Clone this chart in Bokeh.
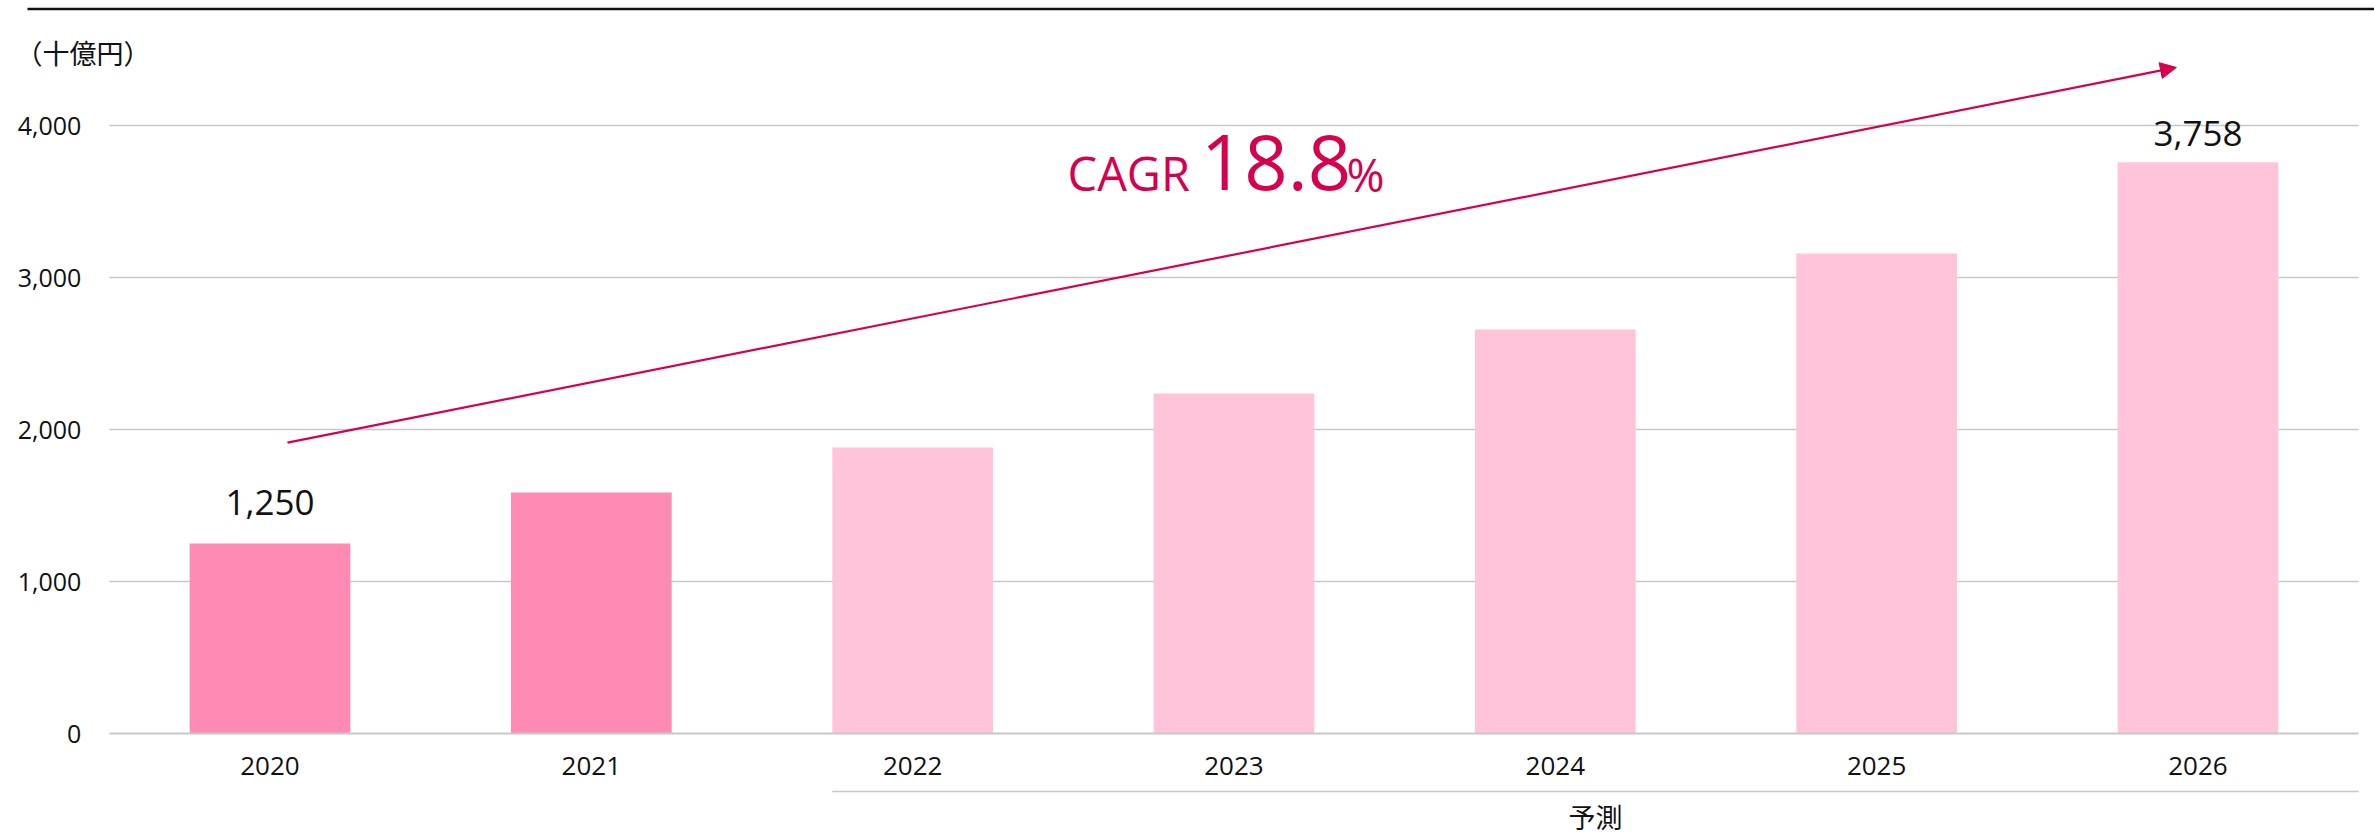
from bokeh.plotting import figure
from bokeh.models import (Range1d, FixedTicker, NumeralTickFormatter, Arrow, NormalHead)
from bokeh.core.properties import value
from bokeh.embed import file_html
from bokeh.resources import INLINE

# ---- data ----
years = ["2020", "2021", "2022", "2023", "2024", "2025", "2026"]
values = [1250, 1586, 1882, 2237, 2658, 3158, 3758]
is_forecast = [False, False, True, True, True, True, True]
y_ticks = [0, 1000, 2000, 3000, 4000]
unit_label = "（十億円）"
forecast_label = "予測"
cagr_prefix = "CAGR "
cagr_value = "18.8"
cagr_suffix = "%"

# ---- style ----
ACTUAL = "#FF8AB4"
FORECAST = "#FFC4D9"
ACCENT = "#D6004F"
GRID = "#C8C8C8"
LATIN = "Open Sans"
CJK = "Noto Sans CJK JP"
BAR_W = 0.5

W, H = 2374, 837
n = len(years)
xs = list(range(n))

p = figure(width=W, height=H, output_backend="svg", toolbar_location=None,
           x_range=Range1d(-0.8387, 6.5494), y_range=Range1d(-684.2, 4822.4),
           min_border_left=0, min_border_right=0, min_border_top=0, min_border_bottom=0)
p.outline_line_color = None
p.xgrid.visible = False
p.ygrid.visible = False
p.background_fill_color = "white"

# gridlines (start at the left end of the category band)
grid_ticks = [t for t in y_ticks if t != 0]
p.segment(x0=[-0.5] * len(grid_ticks), x1=[n - 0.5] * len(grid_ticks),
          y0=grid_ticks, y1=grid_ticks, line_color=GRID, line_width=1.3)

# bars
colors = [FORECAST if f else ACTUAL for f in is_forecast]
p.vbar(x=xs, top=values, bottom=0, width=BAR_W, fill_color=colors, line_color=None)

# x axis at y=0
xa = p.xaxis[0]
xa.fixed_location = 0
xa.bounds = (-0.5, n - 0.5)
xa.ticker = FixedTicker(ticks=xs)
xa.major_label_overrides = {i: y for i, y in enumerate(years)}
xa.axis_line_color = GRID
xa.axis_line_width = 2
xa.major_tick_line_color = None
xa.minor_tick_line_color = None
xa.major_tick_out = 0
xa.major_label_standoff = 23
xa.major_label_text_font = LATIN
xa.major_label_text_font_size = "26px"
xa.major_label_text_color = "#111111"

# y axis
ya = p.yaxis[0]
ya.fixed_location = -0.5
ya.ticker = FixedTicker(ticks=y_ticks)
ya.formatter = NumeralTickFormatter(format="0,0")
ya.axis_line_color = None
ya.major_tick_line_color = None
ya.minor_tick_line_color = None
ya.major_tick_out = 0
ya.major_label_standoff = 28
ya.major_label_text_font = LATIN
ya.major_label_text_font_size = "25px"
ya.major_label_text_color = "#111111"

# data labels on first and last bar
lab_idx = [0, n - 1]
lab_offsets = [-41, -29]
p.text(x=[xs[i] for i in lab_idx], y=[values[i] for i in lab_idx],
       text=[f"{values[i]:,}" for i in lab_idx], y_offset=lab_offsets,
       text_align="center", text_baseline="alphabetic",
       text_font=value(LATIN), text_font_size="35px", text_color="#111111")

# top rule and unit label
p.segment(x0=[-0.7548], x1=[6.6], y0=[4766], y1=[4766], line_color="#111111", line_width=2.5)
p.text(x=[-0.792], y=[4480], text=[unit_label], text_align="left", text_baseline="middle",
       text_font=value(CJK), text_font_size="27px", text_color="#111111")

# forecast bracket
f0 = is_forecast.index(True)
fx0 = f0 - BAR_W / 2
fx1 = n - 0.5
p.segment(x0=[fx0], x1=[fx1], y0=[-381.6], y1=[-381.6], line_color=GRID, line_width=1.5)
p.text(x=[(fx0 + fx1) / 2], y=[-545], text=[forecast_label], text_align="center",
       text_baseline="middle", text_font=value(CJK), text_font_size="27px", text_color="#111111")

# CAGR arrow
p.add_layout(Arrow(x_start=0.0545, y_start=1914, x_end=5.933, y_end=4382,
                   line_color=ACCENT, line_width=2.2,
                   end=NormalHead(size=16, fill_color=ACCENT, line_color=ACCENT)))

# CAGR text
p.text(x=[2.482], y=[3553], text=[cagr_prefix], text_align="left", text_baseline="alphabetic",
       y_offset=-20, text_font=value(LATIN), text_font_size="47px", text_color=ACCENT)
p.text(x=[2.897], y=[3553], text=[cagr_value], text_align="left", text_baseline="alphabetic",
       y_offset=-31, text_font=value(LATIN), text_font_size="76px", text_color=ACCENT)
p.text(x=[3.35], y=[3553], text=[cagr_suffix], text_align="left", text_baseline="alphabetic",
       y_offset=-19, text_font=value(LATIN), text_font_size="46px", text_color=ACCENT)

open("out.html", "w").write(file_html(p, INLINE))
